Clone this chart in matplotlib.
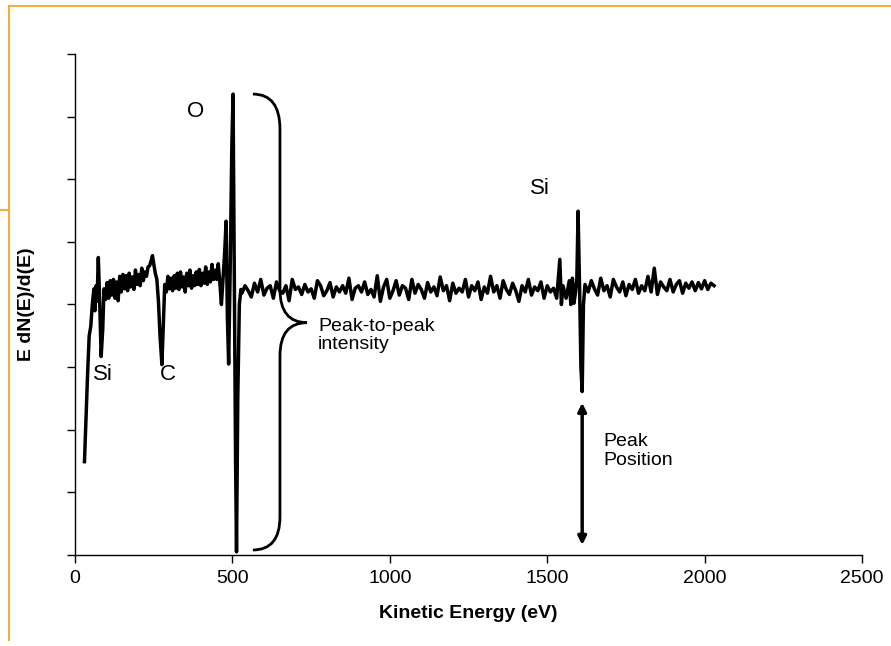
import matplotlib
matplotlib.use("Agg")
import matplotlib.pyplot as plt
from matplotlib.path import Path
from matplotlib.patches import PathPatch
from matplotlib.lines import Line2D

plt.rcParams['font.family'] = ['Liberation Sans', 'DejaVu Sans']

# Auger spectrum (kinetic energy in eV, derivative signal in arbitrary units)
energy = [
    30, 35, 40, 45, 50, 55, 60, 63, 67, 70, 74, 78, 83, 88, 92, 97, 102, 107, 112, 117,
    122, 127, 132, 137, 142, 147, 152, 157, 162, 167, 172, 177, 182, 187, 192, 197, 202, 207, 212, 217,
    222, 227, 232, 237, 242, 246, 250, 255, 260, 265, 270, 276, 280, 285, 290, 295, 300, 305, 310, 315,
    320, 325, 330, 335, 340, 345, 350, 355, 360, 365, 370, 375, 380, 385, 390, 395, 400, 405, 410, 415,
    420, 425, 430, 435, 440, 445, 450, 455, 460, 465, 470, 475, 480, 484, 488, 493, 498, 502, 506, 510,
    513, 517, 522, 527,
    530, 540, 550, 560, 570, 580, 590, 600, 610, 620, 630, 640, 650, 660, 670, 680, 690, 700, 710, 720,
    730, 740, 750, 760, 770, 780, 790, 800, 810, 820, 830, 840, 850, 860, 870, 880, 890, 900, 910, 920,
    930, 940, 950, 960, 970, 980, 990, 1000, 1010, 1020, 1030, 1040, 1050, 1060, 1070, 1080, 1090, 1100,
    1110, 1120, 1130, 1140, 1150, 1160, 1170, 1180, 1190, 1200, 1210, 1220, 1230, 1240, 1250, 1260, 1270,
    1280, 1290, 1300, 1310, 1320, 1330, 1340, 1350, 1360, 1370, 1380, 1390, 1400, 1410, 1420, 1430, 1440,
    1450, 1460, 1470, 1480, 1490, 1500, 1510, 1520, 1530, 1540, 1545, 1550, 1560, 1570, 1575, 1580, 1585,
    1590, 1594, 1598, 1603, 1607, 1611, 1615, 1620,
    1630, 1640, 1650, 1660, 1670, 1680, 1690, 1700, 1710, 1720, 1730, 1740, 1750, 1760, 1770, 1780, 1790,
    1800, 1810, 1820, 1830, 1840, 1850, 1860, 1870, 1880, 1890, 1900, 1910, 1920, 1930, 1940, 1950, 1960,
    1970, 1980, 1990, 2000, 2010, 2020, 2030,
]
signal = [
    1.49, 2.2, 2.9, 3.5, 3.65, 4.0, 4.25, 3.9, 4.3, 4.05, 4.75, 4.1, 3.17, 3.6, 4.25, 4.08, 4.35, 4.1, 4.38, 4.15,
    4.4, 4.1, 4.36, 4.06, 4.45, 4.2, 4.48, 4.25, 4.46, 4.22, 4.5, 4.28, 4.44, 4.24, 4.55, 4.32, 4.48, 4.3, 4.58, 4.38,
    4.52, 4.45, 4.6, 4.62, 4.7, 4.78, 4.65, 4.5, 4.4, 4.05, 3.5, 3.04, 3.6, 4.32, 4.2, 4.45, 4.25, 4.42, 4.22, 4.46,
    4.26, 4.5, 4.24, 4.52, 4.28, 4.44, 4.2, 4.5, 4.3, 4.55, 4.26, 4.46, 4.3, 4.52, 4.32, 4.56, 4.3, 4.5, 4.34, 4.6,
    4.32, 4.52, 4.36, 4.64, 4.4, 4.55, 4.4, 4.65, 4.35, 4.0, 4.4, 4.8, 5.33, 3.8, 3.05, 4.6, 6.5, 7.36, 4.5, 1.5,
    0.05, 2.5, 4.0, 4.24,
    4.18, 4.3, 4.22, 4.12, 4.34, 4.2, 4.4, 4.15, 4.26, 4.3, 4.1, 4.36, 4.22, 4.18, 4.3, 4.06, 4.4, 4.24, 4.28, 4.16,
    4.32, 4.2, 4.25, 4.1, 4.38, 4.3, 4.14, 4.22, 4.35, 4.12, 4.28, 4.2, 4.3, 4.18, 4.42, 4.08, 4.26, 4.3, 4.2, 4.36,
    4.16, 4.24, 4.12, 4.46, 4.05, 4.28, 4.4, 4.1, 4.22, 4.38, 4.15, 4.3, 4.26, 4.08, 4.4, 4.18, 4.32, 4.24,
    4.1, 4.35, 4.2, 4.28, 4.14, 4.44, 4.22, 4.3, 4.06, 4.34, 4.18, 4.26, 4.2, 4.4, 4.12, 4.3, 4.22,
    4.36, 4.08, 4.28, 4.18, 4.45, 4.2, 4.3, 4.1, 4.38, 4.24, 4.16, 4.34, 4.22, 4.05, 4.3, 4.2, 4.4,
    4.15, 4.28, 4.22, 4.36, 4.1, 4.3, 4.2, 4.26, 4.1, 4.72, 4.0, 4.3, 4.1, 4.38, 4.0, 4.42, 4.02,
    4.2, 4.4, 5.49, 4.2, 3.0, 2.61, 4.0, 4.32,
    4.2, 4.38, 4.25, 4.15, 4.42, 4.22, 4.3, 4.12, 4.4, 4.28, 4.2, 4.36, 4.14, 4.32, 4.24, 4.4, 4.18,
    4.3, 4.22, 4.45, 4.2, 4.58, 4.16, 4.36, 4.28, 4.22, 4.4, 4.2, 4.32, 4.38, 4.18, 4.34, 4.26, 4.36,
    4.22, 4.35, 4.25, 4.38, 4.24, 4.34, 4.3,
]

x_ticks = [0, 500, 1000, 1500, 2000, 2500]
x_tick_labels = ["0", "500", "1000", "1500", "2000", "2500"]
y_ticks = [0, 1, 2, 3, 4, 5, 6, 7, 8]

peak_labels = ["O", "Si", "Si", "C"]
peak_label_x = [356, 1446, 58, 268]
peak_label_y = [7.08, 5.85, 2.88, 2.88]

fig = plt.figure(figsize=(8.91, 6.46), dpi=100)
ax = fig.add_axes([0.0842, 0.1409, 0.8833, 0.7755])

ax.plot(energy, signal, color="black", lw=2.5, solid_joinstyle="round")

ax.set_xlim(0, 2500)
ax.set_ylim(0, 8)
ax.set_xticks(x_ticks)
ax.set_xticklabels(x_tick_labels, fontsize=14)
ax.set_yticks(y_ticks)
ax.set_yticklabels([])
ax.tick_params(axis="both", direction="out", length=6, width=1, color="black", pad=5)
for s in ["top", "right"]:
    ax.spines[s].set_visible(False)
for s in ["left", "bottom"]:
    ax.spines[s].set_linewidth(1)
    ax.spines[s].set_color("black")

ax.set_xlabel("Kinetic Energy (eV)", fontsize=14, fontweight="bold", labelpad=13)
ax.set_ylabel("E dN(E)/d(E)", fontsize=14, fontweight="bold", labelpad=18)

for lab, lx, ly in zip(peak_labels, peak_label_x, peak_label_y):
    ax.text(lx, ly, lab, fontsize=16, ha="left", va="center")

# Curly brace showing peak-to-peak intensity
verts = [
    (565, 7.36), (651, 7.36), (651, 6.8),
    (651, 4.24),
    (651, 3.71), (737, 3.71),
    (651, 3.71), (651, 3.18),
    (651, 0.61),
    (651, 0.08), (565, 0.08),
]
codes = [Path.MOVETO, Path.CURVE3, Path.CURVE3, Path.LINETO,
         Path.CURVE3, Path.CURVE3, Path.CURVE3, Path.CURVE3,
         Path.LINETO, Path.CURVE3, Path.CURVE3]
ax.add_patch(PathPatch(Path(verts, codes), facecolor="none", edgecolor="black", lw=2))
ax.text(772, 3.5, "Peak-to-peak\nintensity", fontsize=14, ha="left", va="center", linespacing=1.05)

# Peak position double arrow
ax.annotate("", xy=(1611, 0.16), xytext=(1611, 2.43),
            arrowprops=dict(arrowstyle="<|-|>", lw=2.5, color="black", mutation_scale=12,
                            shrinkA=0, shrinkB=0))
ax.text(1677, 1.66, "Peak\nPosition", fontsize=14, ha="left", va="center", linespacing=1.2)

# Orange slide frame lines
orange = "#F5A623"
W, H = 891, 646
fig.add_artist(Line2D([9 / W, 1], [1 - 6 / H, 1 - 6 / H], transform=fig.transFigure, color=orange, lw=1.3))
fig.add_artist(Line2D([9 / W, 9 / W], [1 - 6 / H, 1 - 640 / H], transform=fig.transFigure, color=orange, lw=1.3))
fig.add_artist(Line2D([0, 9 / W], [1 - 210 / H, 1 - 210 / H], transform=fig.transFigure, color=orange, lw=1.3))

fig.savefig("out.png", dpi=100)
